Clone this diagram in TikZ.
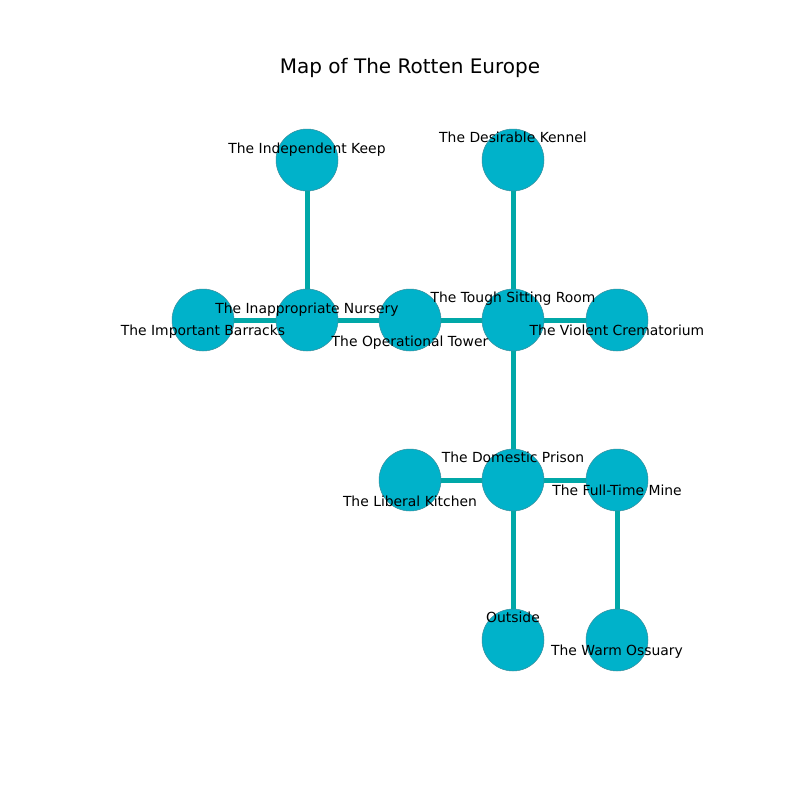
\documentclass[tikz,border=0pt]{standalone}
\usepackage{fontspec}
\setmainfont{DejaVu Sans}
\definecolor{roomfill}{HTML}{00B2CA}
\definecolor{roomedge}{HTML}{3A8E9C}
\definecolor{corridor}{HTML}{00A8A8}
\tikzset{
  room/.style={circle, fill=roomfill, draw=roomedge, line width=0.5pt,
               minimum size=62pt, inner sep=0pt},
  roomlabel/.style={anchor=base, inner sep=0pt, text=black,
                    font=\fontsize{13.9pt}{16pt}\selectfont},
  corridorline/.style={draw=corridor, line width=5pt},
  maptitle/.style={anchor=base, inner sep=0pt,
                   font=\fontsize{20pt}{24pt}\selectfont}
}
\begin{document}
\begin{tikzpicture}[x=1pt, y=-1pt]
\useasboundingbox (0,0) rectangle (800,800);
\fill[white] (0,0) rectangle (800,800);

\node[maptitle] (title) at (410,73.5) {Map of The Rotten Europe};

% room positions
\coordinate (keep) at (307,160);
\coordinate (kennel) at (513,160);
\coordinate (barracks) at (203,320);
\coordinate (nursery) at (307,320);
\coordinate (tower) at (410,320);
\coordinate (sitting) at (513,320);
\coordinate (cremat) at (617,320);
\coordinate (kitchen) at (410,480);
\coordinate (prison) at (513,480);
\coordinate (mine) at (617,480);
\coordinate (outside) at (513,640);
\coordinate (ossuary) at (617,640);

% corridors
\foreach \a/\b in {keep/nursery, barracks/nursery, nursery/tower, tower/sitting,
                   kennel/sitting, sitting/cremat, sitting/prison, kitchen/prison,
                   prison/mine, prison/outside, mine/ossuary}
  \draw[corridorline] (\a) -- (\b);

% rooms
\foreach \r in {keep, kennel, barracks, nursery, tower, sitting, cremat,
                kitchen, prison, mine, outside, ossuary}
  \node[room] (n-\r) at (\r) {};

% labels
\node[roomlabel] (l-keep) at (307,153) {The Independent Keep};
\node[roomlabel] (l-kennel) at (513,142) {The Desirable Kennel};
\node[roomlabel] (l-barracks) at (203,335) {The Important Barracks};
\node[roomlabel] (l-nursery) at (307,313) {The Inappropriate Nursery};
\node[roomlabel] (l-tower) at (410,346) {The Operational Tower};
\node[roomlabel] (l-sitting) at (513,302) {The Tough Sitting Room};
\node[roomlabel] (l-cremat) at (617,335) {The Violent Crematorium};
\node[roomlabel] (l-kitchen) at (410,506) {The Liberal Kitchen};
\node[roomlabel] (l-prison) at (513,462) {The Domestic Prison};
\node[roomlabel] (l-mine) at (617,495) {The Full-Time Mine};
\node[roomlabel] (l-outside) at (513,622) {Outside};
\node[roomlabel] (l-ossuary) at (617,655) {The Warm Ossuary};
\end{tikzpicture}
\end{document}
